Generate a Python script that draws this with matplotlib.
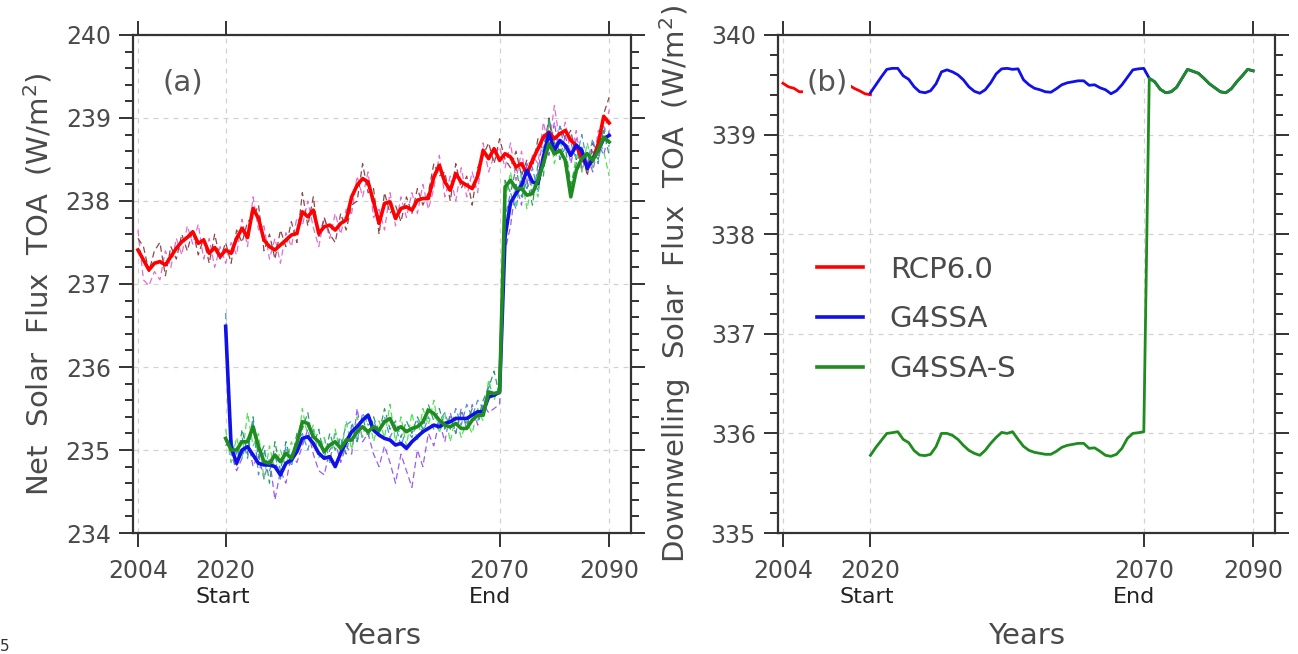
import matplotlib
matplotlib.use("Agg")
import matplotlib.pyplot as plt
from matplotlib.ticker import MultipleLocator
import numpy as np

# ---- data ---------------------------------------------------------------
years_rcp = np.arange(2004, 2091)
years_geo = np.arange(2020, 2091)
years_rcp_b = np.arange(2004, 2021)

# (a) net solar flux TOA, ensemble mean + two members
rcp_mean = [237.41, 237.29, 237.17, 237.25, 237.27, 237.23, 237.33, 237.43, 237.51, 237.56,
            237.63, 237.49, 237.53, 237.37, 237.44, 237.33, 237.41, 237.37, 237.55, 237.67,
            237.56, 237.91, 237.79, 237.53, 237.45, 237.41, 237.47, 237.53, 237.59, 237.61,
            237.87, 237.81, 237.89, 237.61, 237.69, 237.71, 237.65, 237.73, 237.77, 238.05,
            238.19, 238.27, 238.23, 237.99, 237.73, 237.97, 237.99, 237.79, 237.91, 237.93,
            237.89, 238.01, 238.03, 238.03, 238.29, 238.43, 238.23, 238.13, 238.33, 238.23,
            238.19, 238.15, 238.30, 238.61, 238.51, 238.63, 238.49, 238.57, 238.53, 238.41,
            238.45, 238.33, 238.49, 238.63, 238.77, 238.83, 238.75, 238.81, 238.85, 238.73,
            238.67, 238.51, 238.43, 238.49, 238.69, 239.02, 238.94]
rcp_run1 = [237.65, 237.05, 236.98, 237.15, 237.05, 237.40, 237.20, 237.55, 237.35, 237.70,
            237.48, 237.72, 237.30, 237.55, 237.20, 237.45, 237.25, 237.50, 237.35, 237.78,
            237.45, 238.05, 237.65, 237.70, 237.30, 237.55, 237.25, 237.62, 237.45, 237.80,
            237.70, 238.00, 237.68, 237.45, 237.80, 237.55, 237.85, 237.60, 237.90, 237.85,
            238.30, 238.05, 238.35, 237.80, 237.90, 237.65, 238.10, 237.70, 238.05, 237.80,
            238.10, 237.85, 238.20, 237.90, 238.15, 238.55, 238.05, 238.30, 238.00, 238.40,
            238.05, 238.35, 238.10, 238.70, 238.35, 238.55, 238.65, 238.40, 238.70, 238.25,
            238.60, 238.20, 238.55, 238.45, 238.95, 238.65, 239.15, 238.70, 238.95, 238.55,
            238.85, 238.35, 238.60, 238.40, 238.85, 238.80, 239.10]
rcp_run2 = [237.55, 237.45, 237.15, 237.40, 237.50, 237.10, 237.45, 237.30, 237.60, 237.40,
            237.65, 237.35, 237.55, 237.25, 237.60, 237.30, 237.50, 237.25, 237.65, 237.50,
            237.75, 237.80, 237.95, 237.40, 237.60, 237.30, 237.65, 237.45, 237.75, 237.50,
            238.10, 237.70, 238.05, 237.55, 237.80, 237.60, 237.50, 237.85, 237.65, 237.95,
            238.00, 238.45, 238.10, 238.15, 237.60, 238.10, 237.85, 237.95, 237.75, 238.05,
            237.85, 238.15, 237.95, 238.10, 238.45, 238.30, 238.35, 238.00, 238.45, 238.15,
            238.30, 237.95, 238.40, 238.55, 238.70, 238.45, 238.75, 238.50, 238.40, 238.60,
            238.30, 238.50, 238.40, 238.75, 238.60, 239.00, 238.60, 238.90, 238.75, 238.85,
            238.50, 238.65, 238.30, 238.70, 238.55, 239.05, 239.25]

g4ssa_mean = [236.49, 235.04, 234.84, 235.00, 235.04, 234.94, 234.84, 234.82, 234.82, 234.80,
              234.70, 234.84, 234.88, 234.98, 235.14, 235.16, 235.08, 234.96, 234.90, 234.92,
              234.80, 234.96, 235.10, 235.22, 235.28, 235.36, 235.42, 235.24, 235.18, 235.14,
              235.12, 235.06, 235.08, 235.02, 235.10, 235.16, 235.22, 235.26, 235.30, 235.28,
              235.32, 235.34, 235.38, 235.38, 235.38, 235.42, 235.46, 235.46, 235.64, 235.66,
              235.70, 237.57, 237.98, 238.09, 238.19, 238.37, 238.23, 238.21, 238.53, 238.82,
              238.61, 238.73, 238.67, 238.55, 238.67, 238.61, 238.39, 238.51, 238.61, 238.75,
              238.79]
g4ssa_run1 = [236.45, 234.95, 234.75, 234.90, 235.15, 234.80, 234.95, 234.65, 234.90, 234.40,
              234.75, 234.60, 234.95, 234.85, 235.05, 235.25, 234.95, 234.75, 234.70, 235.00,
              235.10, 234.85, 235.05, 234.95, 235.50, 235.10, 235.20, 234.95, 234.80, 235.05,
              234.85, 234.60, 234.95, 234.75, 234.55, 235.00, 234.80, 235.20, 235.05, 235.35,
              235.10, 235.45, 235.20, 235.50, 235.25, 235.55, 235.30, 235.55, 235.45, 235.50,
              235.55, 237.40, 237.70, 238.20, 237.95, 238.45, 238.05, 238.35, 238.80, 238.55,
              238.95, 238.50, 238.80, 238.45, 238.75, 238.40, 238.55, 238.35, 238.70, 238.55,
              238.85]
g4ssa_run2 = [236.65, 235.10, 234.95, 235.15, 234.90, 235.35, 234.70, 235.00, 234.75, 234.95,
              234.65, 235.05, 234.80, 235.10, 235.20, 235.00, 235.25, 235.05, 235.15, 234.85,
              235.20, 235.05, 235.30, 235.35, 235.10, 235.45, 235.30, 235.35, 235.20, 235.40,
              235.15, 235.30, 235.05, 235.25, 235.15, 235.35, 235.20, 235.40, 235.25, 235.35,
              235.45, 235.25, 235.50, 235.30, 235.55, 235.40, 235.60, 235.50, 235.80, 235.65,
              235.75, 237.80, 238.10, 237.90, 238.35, 238.15, 238.40, 238.10, 238.65, 238.95,
              238.55, 238.90, 238.60, 238.70, 238.50, 238.80, 238.45, 238.75, 238.45, 238.90,
              238.65]

g4ssas_mean = [235.14, 235.00, 235.00, 235.10, 235.10, 235.28, 235.04, 234.86, 234.84, 234.94,
               234.86, 234.96, 234.90, 235.08, 235.34, 235.32, 235.16, 235.10, 234.98, 235.06,
               235.10, 235.02, 235.12, 235.12, 235.22, 235.28, 235.22, 235.28, 235.24, 235.34,
               235.38, 235.24, 235.28, 235.22, 235.26, 235.28, 235.34, 235.48, 235.44, 235.36,
               235.30, 235.28, 235.32, 235.26, 235.26, 235.36, 235.42, 235.42, 235.70, 235.68,
               235.70, 238.17, 238.25, 238.15, 238.15, 238.07, 238.09, 238.25, 238.45, 238.69,
               238.57, 238.61, 238.49, 238.05, 238.37, 238.51, 238.57, 238.49, 238.61, 238.77,
               238.71]
g4ssas_run1 = [235.25, 234.85, 235.15, 234.90, 235.45, 235.05, 235.20, 234.65, 235.05, 234.75,
               235.00, 234.80, 235.10, 234.95, 235.50, 235.15, 235.30, 234.90, 235.15, 234.85,
               235.25, 234.95, 235.35, 235.00, 235.40, 235.15, 235.45, 235.10, 235.35, 235.15,
               235.55, 235.10, 235.40, 235.05, 235.45, 235.10, 235.50, 235.30, 235.60, 235.20,
               235.45, 235.10, 235.40, 235.15, 235.35, 235.20, 235.50, 235.35, 235.85, 235.60,
               235.80, 238.00, 238.35, 237.95, 238.30, 237.90, 238.25, 238.05, 238.60, 238.90,
               238.45, 238.75, 238.40, 238.15, 238.55, 238.35, 238.70, 238.40, 238.75, 238.60,
               238.30]
g4ssas_run2 = [235.05, 235.15, 234.80, 235.25, 234.95, 235.40, 234.90, 235.05, 234.60, 235.10,
               234.75, 235.10, 234.85, 235.20, 235.25, 235.45, 235.05, 235.25, 234.90, 235.20,
               235.00, 235.15, 234.95, 235.30, 235.10, 235.40, 235.15, 235.40, 235.20, 235.50,
               235.25, 235.35, 235.15, 235.35, 235.20, 235.40, 235.25, 235.55, 235.35, 235.50,
               235.25, 235.40, 235.20, 235.45, 235.30, 235.50, 235.35, 235.60, 235.75, 235.95,
               235.65, 238.25, 238.10, 238.40, 238.05, 238.25, 237.95, 238.45, 238.30, 239.00,
               238.70, 238.50, 238.65, 238.20, 238.45, 238.65, 238.45, 238.60, 238.50, 238.85,
               238.55]

# (b) downwelling solar flux TOA
rcp_down = [339.515, 339.48, 339.465, 339.43, 339.43, 339.42, 339.45, 339.52, 339.57,
            339.60, 339.60, 339.56, 339.50, 339.465, 339.44, 339.41, 339.40]
g4ssa_down = [339.42, 339.50, 339.58, 339.655, 339.665, 339.665, 339.59, 339.555, 339.48, 339.43,
              339.42, 339.44, 339.51, 339.63, 339.65, 339.63, 339.60, 339.55, 339.48, 339.435,
              339.415, 339.45, 339.52, 339.61, 339.66, 339.665, 339.655, 339.66, 339.55, 339.50,
              339.465, 339.45, 339.43, 339.425, 339.46, 339.50, 339.52, 339.53, 339.54, 339.54,
              339.495, 339.50, 339.47, 339.45, 339.41, 339.44, 339.50, 339.575, 339.65, 339.66,
              339.665, 339.565, 339.53, 339.455, 339.42, 339.43, 339.475, 339.565, 339.655, 339.635,
              339.615, 339.565, 339.51, 339.47, 339.43, 339.42, 339.46, 339.53, 339.59, 339.655,
              339.64]
g4ssas_down = [335.78, 335.86, 335.93, 336.00, 336.007, 336.017, 335.94, 335.907, 335.827, 335.783,
               335.777, 335.79, 335.867, 336.00, 336.00, 335.98, 335.94, 335.88, 335.83, 335.80,
               335.78, 335.83, 335.90, 335.96, 336.01, 336.00, 336.017, 335.94, 335.87, 335.83,
               335.81, 335.80, 335.79, 335.79, 335.82, 335.86, 335.88, 335.89, 335.90, 335.90,
               335.85, 335.855, 335.82, 335.78, 335.77, 335.79, 335.85, 335.95, 336.00, 336.007,
               336.017, 339.565, 339.53, 339.455, 339.42, 339.43, 339.475, 339.565, 339.655, 339.635,
               339.615, 339.565, 339.51, 339.47, 339.43, 339.42, 339.46, 339.53, 339.59, 339.655,
               339.64]

xticks = [2004, 2020, 2070, 2090]
xtick_labels = ["2004", "2020", "2070", "2090"]

TXT = "#4a4a4a"
AXC = "#333333"
RED, BLUE, GREEN = "#ff0000", "#1010e8", "#1e8c1e"
DASH = (0, (5, 3))


def style_axis(ax, ymin, ymax, ylabel, ylabel_x):
    ax.set_xlim(2003.1, 2094.0)
    ax.set_ylim(ymin, ymax)
    ax.set_xticks(xticks)
    ax.set_xticklabels(xtick_labels)
    ax.yaxis.set_major_locator(MultipleLocator(1))
    ax.yaxis.set_minor_locator(MultipleLocator(0.2))
    ax.tick_params(which="both", direction="out", top=True, right=True,
                   color=AXC, width=1.4, labelcolor=TXT, labelsize=17)
    ax.tick_params(which="major", length=10, pad=6)
    ax.tick_params(which="minor", length=6)
    ax.tick_params(axis="x", pad=9)
    for sp in ax.spines.values():
        sp.set_color(AXC)
        sp.set_linewidth(1.6)
    ax.grid(True, which="major", ls=(0, (4, 4)), color="#d2d2d2", lw=0.9)
    ax.set_axisbelow(True)
    ax.set_ylabel(ylabel, fontsize=21, color=TXT, va="center")
    ax.yaxis.set_label_coords(ylabel_x, 0.5)
    ax.set_xlabel("Years", fontsize=21, color=TXT, va="center")
    ax.xaxis.set_label_coords(0.5, -0.207)
    for yr, word in [(2020, "Start"), (2070, "End")]:
        ax.annotate(word, xy=(yr, 0), xycoords=ax.get_xaxis_transform(),
                    xytext=(-22, -46), textcoords="offset points",
                    ha="left", va="center", fontsize=16, color="#222222")


fig = plt.figure(figsize=(12.98, 6.54), dpi=100)
ax1 = fig.add_axes([0.1025, 0.185, 0.3837, 0.7615])
ax2 = fig.add_axes([0.5994, 0.185, 0.3829, 0.7615])

# panel (a)
ax1.plot(years_rcp, rcp_run1, color="#e070d0", lw=0.9, ls=DASH)
ax1.plot(years_rcp, rcp_run2, color="#8b4848", lw=0.9, ls=DASH)
ax1.plot(years_geo, g4ssa_run1, color="#9a5cf0", lw=0.9, ls=DASH)
ax1.plot(years_geo, g4ssa_run2, color="#4a90e8", lw=0.9, ls=DASH)
ax1.plot(years_geo, g4ssas_run1, color="#55e055", lw=0.9, ls=DASH)
ax1.plot(years_geo, g4ssas_run2, color="#2e9e6e", lw=0.9, ls=DASH)
ax1.plot(years_rcp, rcp_mean, color=RED, lw=2.6)
ax1.plot(years_geo, g4ssa_mean, color=BLUE, lw=2.6)
ax1.plot(years_geo, g4ssas_mean, color=GREEN, lw=2.6)
style_axis(ax1, 234, 240, "Net  Solar  Flux  TOA  (W/m$^2$)", -0.191)
ax1.text(0.10, 0.904, "(a)", transform=ax1.transAxes, fontsize=21, color="#555555",
         ha="center", va="center")

# panel (b)
ax2.plot(years_rcp_b, rcp_down, color=RED, lw=2.0, label="RCP6.0")
ax2.plot(years_geo, g4ssa_down, color=BLUE, lw=2.0, label="G4SSA")
ax2.plot(years_geo, g4ssas_down, color=GREEN, lw=2.0, label="G4SSA-S")
style_axis(ax2, 335, 340, "Downwelling  Solar  Flux  TOA  (W/m$^2$)", -0.207)
ax2.text(0.0986, 0.904, "(b)", transform=ax2.transAxes, fontsize=21, color="#555555",
         ha="center", va="center", zorder=5,
         bbox=dict(facecolor="white", edgecolor="none", pad=2))
leg = ax2.legend(loc="upper left", bbox_to_anchor=(0.078, 0.557), frameon=False,
                 fontsize=21, handlelength=1.6, handletextpad=0.9, labelspacing=0.75,
                 borderpad=0, borderaxespad=0)
for t in leg.get_texts():
    t.set_color(TXT)
for h in leg.get_lines():
    h.set_linewidth(2.6)

fig.text(0.0, 0.0, "5", fontsize=11, color="#333333", ha="left", va="bottom")

fig.savefig("out.png", dpi=100)
